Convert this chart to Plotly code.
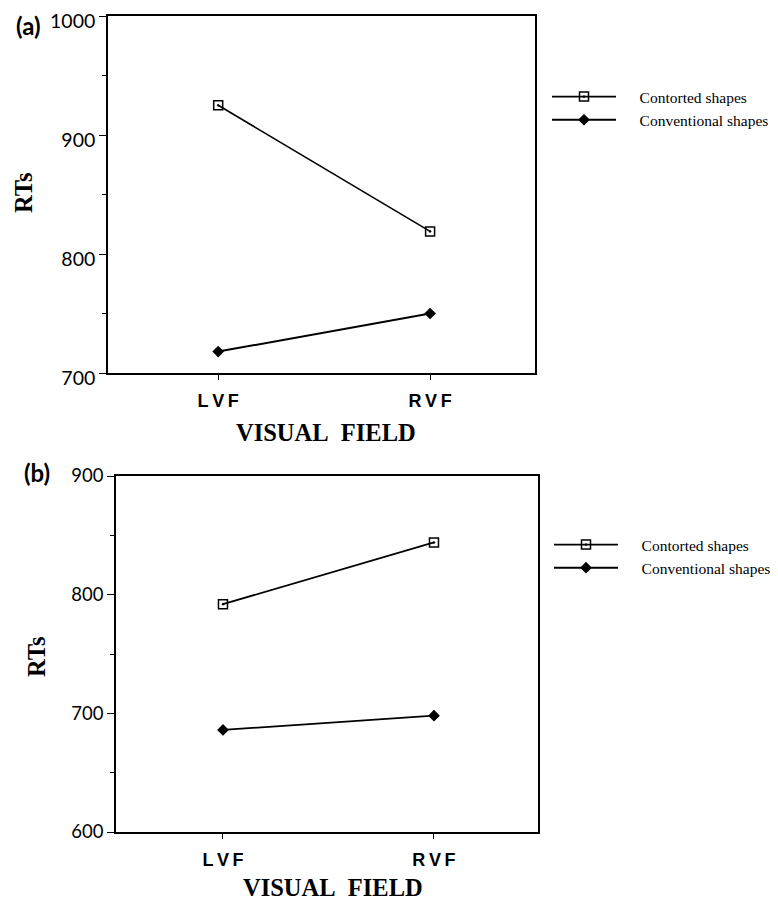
import plotly.graph_objects as go

# ---- data ----
categories = ["LVF", "RVF"]
category_labels = ["L\u2009V\u2009F", "R\u2009V\u2009F"]
series_names = ["Contorted shapes", "Conventional shapes"]
a_contorted = [925, 819]
a_conventional = [718, 750]
b_contorted = [792, 844]
b_conventional = [686, 698]
a_yticks = [700, 800, 900, 1000]
b_yticks = [600, 700, 800, 900]

# page body has an 8px margin; size the figure to fit the 778x901 window
OFF = 8
W, H = 778 - OFF, 901 - OFF


def px(x):
    return (x - OFF) / W


def py(y):
    return 1 - (y - OFF) / H


LEG_PAD = "\u2003\u2009"

fig = go.Figure()

# panel (a)
fig.add_trace(go.Scatter(x=categories, y=a_contorted, name=LEG_PAD + series_names[0], mode="lines+markers",
                         line=dict(color="black", width=1.6),
                         marker=dict(symbol="square-open-dot", size=9, color="black", line=dict(width=1.5)),
                         xaxis="x", yaxis="y", legend="legend"))
fig.add_trace(go.Scatter(x=categories, y=a_conventional, name=LEG_PAD + series_names[1], mode="lines+markers",
                         line=dict(color="black", width=2),
                         marker=dict(symbol="diamond", size=9, color="black"),
                         xaxis="x", yaxis="y", legend="legend"))
# panel (b)
fig.add_trace(go.Scatter(x=categories, y=b_contorted, name=LEG_PAD + series_names[0], mode="lines+markers",
                         line=dict(color="black", width=1.8),
                         marker=dict(symbol="square-open-dot", size=9, color="black", line=dict(width=1.5)),
                         xaxis="x2", yaxis="y2", legend="legend2"))
fig.add_trace(go.Scatter(x=categories, y=b_conventional, name=LEG_PAD + series_names[1], mode="lines+markers",
                         line=dict(color="black", width=1.8),
                         marker=dict(symbol="diamond", size=9, color="black"),
                         xaxis="x2", yaxis="y2", legend="legend2"))

tickfont_x = dict(family="Liberation Sans", size=18, color="black", weight="bold")

common_x = dict(type="category", showline=True, mirror=True, linecolor="black", linewidth=1.6,
                ticks="outside", ticklen=5, tickwidth=1.3, tickcolor="black",
                tickvals=categories, ticktext=category_labels, tickfont=tickfont_x,
                showgrid=False, zeroline=False, ticklabelstandoff=6)
common_y = dict(showline=True, mirror=True, linecolor="black", linewidth=1.6,
                ticks="outside", ticklen=7, tickwidth=1.3, tickcolor="black",
                showgrid=False, zeroline=False, ticklabeloverflow="allow",
                minor=dict(dtick=50, ticks="outside", ticklen=4, tickwidth=1, tickcolor="black", showgrid=False))

leg_font = dict(family="Liberation Serif", size=15.5, color="black")

fig.update_layout(
    width=W, height=H,
    margin=dict(l=0, r=0, t=0, b=0, autoexpand=False),
    paper_bgcolor="white", plot_bgcolor="white",
    xaxis=dict(domain=[px(108), px(535)], anchor="y", range=[-0.52, 1.495], **common_x),
    yaxis=dict(domain=[py(373), py(16)], anchor="x", range=[700, 1000], tickvals=a_yticks,
               tickfont=dict(family="Lato", size=19.5, color="black"), ticklabelshift=5, **common_y),
    xaxis2=dict(domain=[px(116), px(538)], anchor="y2", range=[-0.507, 1.493], **common_x),
    yaxis2=dict(domain=[py(832), py(476)], anchor="x2", range=[600, 900], tickvals=b_yticks,
                tickfont=dict(family="Lato", size=18.5, color="black"), **common_y),
    legend=dict(x=px(547), y=py(80), xanchor="left", yanchor="top", itemwidth=64,
                font=leg_font, bgcolor="rgba(0,0,0,0)", tracegroupgap=0),
    legend2=dict(x=px(549), y=py(528), xanchor="left", yanchor="top", itemwidth=64,
                 font=leg_font, bgcolor="rgba(0,0,0,0)", tracegroupgap=0),
    showlegend=True,
)

title_font = dict(family="Liberation Serif", size=24.5, color="black", weight="bold")
panel_font = dict(family="Lato", size=24, color="black", weight="bold")
annos = [
    dict(text="(a)", x=px(28), y=py(25), font=panel_font),
    dict(text="(b)", x=px(37), y=py(472), font=panel_font),
    dict(text="RTs", x=px(24), y=py(193), font=title_font, textangle=-90),
    dict(text="RTs", x=px(36), y=py(657), font=title_font, textangle=-90),
    dict(text="VISUAL\u00a0\u00a0FIELD", x=px(326), y=py(432), font=title_font),
    dict(text="VISUAL\u00a0\u00a0FIELD", x=px(333), y=py(887), font=title_font),
]
for a in annos:
    fig.add_annotation(xref="paper", yref="paper", xanchor="center", yanchor="middle",
                       showarrow=False, **a)

fig.write_html("out.html")
